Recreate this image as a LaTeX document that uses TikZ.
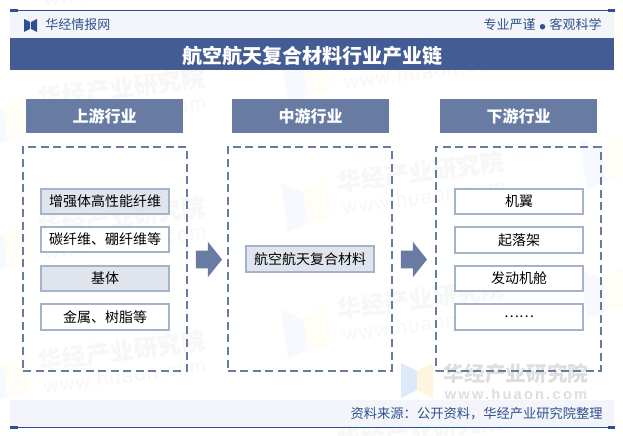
\documentclass[tikz,border=0pt]{standalone}
\usepackage{fontspec}
\usetikzlibrary{shapes.arrows}
\setmainfont{Noto Sans CJK SC}
\newfontfamily\wwwfont[LetterSpace=7]{Liberation Sans}
\newfontfamily\wwwbold[LetterSpace=15]{Liberation Sans Bold}
\definecolor{bandblue}{HTML}{435C93}
\definecolor{headblue}{HTML}{687BA3}
\definecolor{edgeblue}{HTML}{A5B2CC}
\definecolor{fillblue}{HTML}{E0E4ED}
\definecolor{lightband}{HTML}{F3F5FA}
\definecolor{ruleblue}{HTML}{2F5090}
\definecolor{wmtext}{HTML}{F7F7F7}
\definecolor{wmblue}{HTML}{F6F9FE}
\definecolor{wmyellow}{HTML}{FFFDF5}
\definecolor{wmgrey}{HTML}{DEDEDE}
\definecolor{logoblue}{HTML}{DCE9FB}
\definecolor{logoyellow}{HTML}{FDF6DC}
\tikzset{
  x=0.75pt,y=-0.75pt,
  headbox/.style={fill=headblue,text=white,minimum width=157*0.75pt,minimum height=34*0.75pt,inner sep=0pt,font=\fontsize{12}{12}\selectfont\bfseries},
  panel/.style={draw=headblue,line width=1.5pt,dash pattern=on 6pt off 3.4pt,inner sep=0pt},
  itembox/.style={draw=edgeblue,line width=1.5pt,fill=white,minimum width=128*0.75pt,inner sep=0pt,text=black,font=\fontsize{10.5}{10.5}\selectfont},
  shaded/.style={itembox,fill=fillblue},
  flow/.style={single arrow,fill=headblue,inner sep=0pt,minimum height=26*0.75pt,minimum width=35*0.75pt,single arrow head extend=9*0.75pt,single arrow tip angle=103,single arrow head indent=0pt},
  wmark/.style={text=wmtext,rotate=7.5,inner sep=0pt,font=\fontsize{18}{18}\selectfont\bfseries},
  wmurl/.style={text=wmtext,rotate=7.5,inner sep=0pt,font=\fontsize{15}{15}\wwwfont},
  bandtext/.style={text=ruleblue,inner sep=0pt},
  wmlogo/.pic={
    \fill[wmblue] (0,0) -- (22,9) -- (27,40) -- (7,49) -- cycle;
    \fill[wmyellow] (22,9) -- (46,-6) -- (49,35) -- (27,40) -- cycle;
  },
}
\begin{document}
\begin{tikzpicture}
\useasboundingbox (0,0) rectangle (623,435);
\fill[white] (0,0) rectangle (623,435);
% faint repeating watermarks
\foreach \lx/\ly in {-19/100,-19/227,-19/357,281/55,281/183,281/310,580/10,580/140,580/270}{
  \pic at (\lx,\ly) {wmlogo};
}
\node[wmurl] (wua) at (125,-11) {www.huaon.com};
\node[wmark] (wmb) at (122,88) {华经产业研究院};
\node[wmurl] (wub) at (125,113) {www.huaon.com};
\node[wmark] (wmc) at (122,217) {华经产业研究院};
\node[wmurl] (wuc) at (125,242) {www.huaon.com};
\node[wmark] (wmd) at (122,351) {华经产业研究院};
\node[wmurl] (wud) at (125,376) {www.huaon.com};
\node[wmurl] (wue) at (425,72) {www.huaon.com};
\node[wmark] (wmf) at (421,172) {华经产业研究院};
\node[wmurl] (wuf) at (424,197) {www.huaon.com};
\node[wmark] (wmg) at (421,299) {华经产业研究院};
\node[wmurl] (wug) at (424,324) {www.huaon.com};
\node[wmark] (wmh) at (421,430) {华经产业研究院};
% bottom-right watermark
\fill[logoblue] (401,363) -- (417,371) -- (417,390) -- (401,398) -- cycle;
\fill[logoyellow] (417,371) -- (433,363) -- (433,398) -- (417,390) -- cycle;
\node[text=wmgrey,inner sep=0pt,font=\fontsize{15.5}{15.5}\selectfont\bfseries] (wmbr) at (516,373.5) {华经产业研究院};
\node[text=wmgrey,inner sep=0pt,font=\fontsize{11}{11}\wwwbold] (wubr) at (516,394) {www.huaon.com};
% header and footer
\fill[lightband] (10,11) rectangle (614,38);
\fill[bandblue] (10,38) rectangle (614,70);
\fill[lightband] (10,400) rectangle (614,427);
\draw[ruleblue,line width=0.75pt] (10,10.5) -- (615,10.5);
\draw[ruleblue,line width=0.75pt] (10,427.5) -- (615,427.5);
\fill[ruleblue] (10,9) rectangle (18,12);
\fill[ruleblue] (608,9) rectangle (615,12);
\fill[ruleblue] (10,426) rectangle (18,429);
\fill[ruleblue] (608,426) rectangle (615,429);
\fill[ruleblue] (24,19) -- (30,22) -- (30,29) -- (24,32) -- cycle;
\fill[ruleblue] (37,19) -- (31,22) -- (31,29) -- (37,32) -- cycle;
\node[bandtext,anchor=west,font=\fontsize{9.75}{9.75}\selectfont] (brand) at (45,25) {华经情报网};
\node[bandtext,anchor=east,font=\fontsize{9.75}{9.75}\selectfont] (motto) at (602,24.5) {专业严谨\hspace{3pt}{\fontsize{4.5}{4.5}\selectfont●}\hspace{3pt}客观科学};
\node[text=white,inner sep=0pt,font=\fontsize{15}{15}\selectfont\bfseries] (title) at (312.5,55.5) {航空航天复合材料行业产业链};
\node[bandtext,anchor=east,font=\fontsize{9.95}{9.95}\selectfont] (source) at (603,414) {资料来源：公开资料，华经产业研究院整理};
% column headers
\node[headbox] (h1) at (104.5,116) {上游行业};
\node[headbox] (h2) at (310.5,116) {中游行业};
\node[headbox] (h3) at (518.5,116) {下游行业};
% dashed panels
\node[panel,minimum width=164*0.75pt,minimum height=224*0.75pt] (p1) at (105,259) {};
\node[panel,minimum width=164*0.75pt,minimum height=224*0.75pt] (p2) at (309.5,259) {};
\node[panel,minimum width=165*0.75pt,minimum height=224*0.75pt] (p3) at (518,259) {};
% upstream items
\node[shaded,minimum height=25*0.75pt] (u1) at (105,201.5) {增强体高性能纤维};
\node[itembox,minimum height=25*0.75pt] (u2) at (105,239.5) {碳纤维、硼纤维等};
\node[shaded,minimum height=25*0.75pt] (u3) at (105,278.5) {基体};
\node[itembox,minimum height=26*0.75pt] (u4) at (105,317) {金属、树脂等};
% midstream item
\node[shaded,minimum height=26*0.75pt] (m1) at (310,259) {航空航天复合材料};
% downstream items
\node[itembox,minimum height=25*0.75pt] (d1) at (519,201.5) {机翼};
\node[itembox,minimum height=26*0.75pt] (d2) at (519,240) {起落架};
\node[itembox,minimum height=25*0.75pt] (d3) at (519,278.5) {发动机舱};
\node[itembox,minimum height=26*0.75pt] (d4) at (519,317) {……};
% flow arrows
\node[flow] (a1) at (205.5,259.5) {\rule{0pt}{12.75pt}};
\node[flow] (a2) at (410.5,259.5) {\rule{0pt}{12.75pt}};
\end{tikzpicture}
\end{document}
